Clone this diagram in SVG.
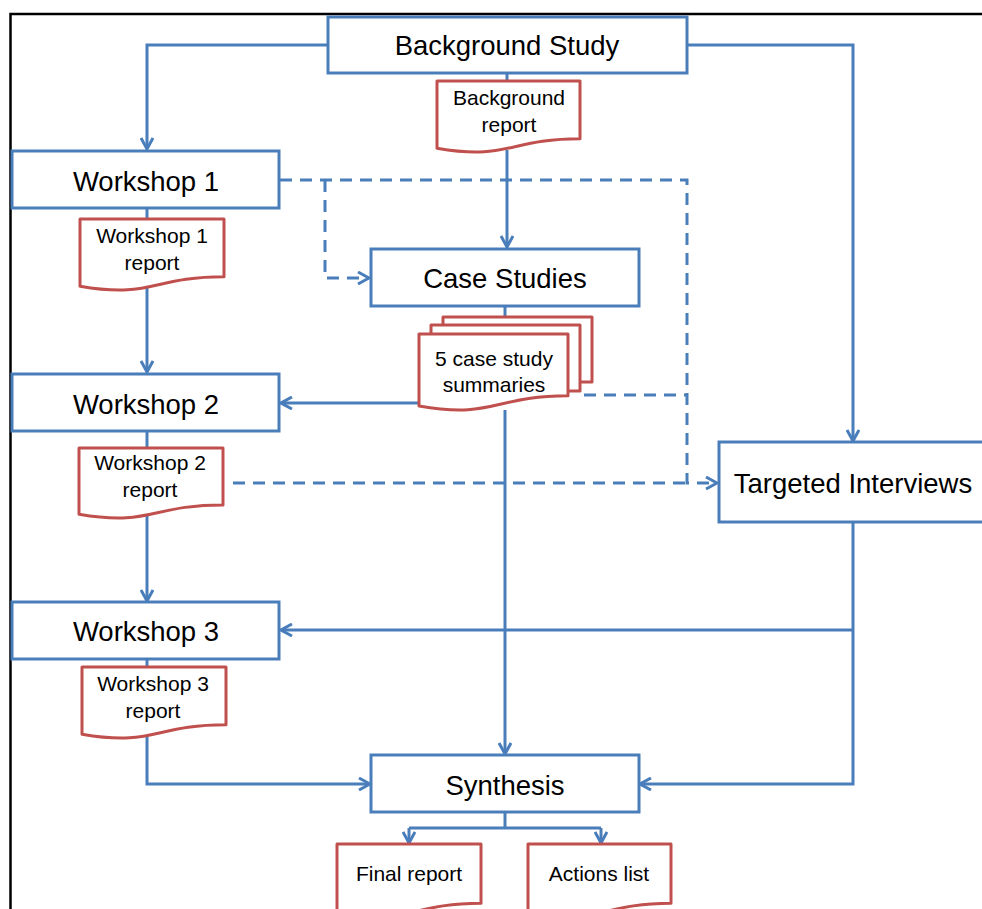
<svg xmlns="http://www.w3.org/2000/svg" width="982" height="909" viewBox="0 0 982 909">
<defs>
<style>
.box{fill:#fff;stroke:#4A7EBB;stroke-width:3}
.doc{fill:#fff;stroke:#C0504D;stroke-width:3;stroke-linejoin:round}
.ln{fill:none;stroke:#4A7EBB;stroke-width:3;stroke-linejoin:miter}
.dash{fill:none;stroke:#4A7EBB;stroke-width:3;stroke-dasharray:12 8}
.t{font-family:"Liberation Sans",Arial,sans-serif;font-size:27.5px;fill:#000;text-anchor:middle}
.d{font-family:"Liberation Sans",Arial,sans-serif;font-size:21px;fill:#000;text-anchor:middle}
</style>
<marker id="arr" viewBox="0 0 14 14" refX="12.5" refY="7" markerWidth="14" markerHeight="14" markerUnits="userSpaceOnUse" orient="auto">
<path d="M1.5,1 L12.5,7 L1.5,13" fill="none" stroke="#4A7EBB" stroke-width="3"/>
</marker>
</defs>
<rect x="0" y="0" width="982" height="909" fill="#fff"/>
<path d="M10.5,909 V14 H982" fill="none" stroke="#000" stroke-width="2.5"/>

<g id="connectors">
<path class="ln" d="M328,45 H147 V149" marker-end="url(#arr)"/>
<path class="ln" d="M687,45 H853 V441" marker-end="url(#arr)"/>
<path class="ln" d="M507,73 V81"/>
<path class="ln" d="M507,150 V247" marker-end="url(#arr)"/>
<path class="ln" d="M147,208 V219"/>
<path class="ln" d="M147,287 V372" marker-end="url(#arr)"/>
<path class="dash" d="M280,180 H687 V483 H717" marker-end="url(#arr)"/>
<path class="dash" d="M325,180 V278 H369" marker-end="url(#arr)"/>
<path class="ln" d="M505,306 V317"/>
<path class="ln" d="M505,410 V754" marker-end="url(#arr)"/>
<path class="ln" d="M420,403 H281" marker-end="url(#arr)"/>
<path class="dash" d="M584,395 H687"/>
<path class="ln" d="M147,431 V448"/>
<path class="ln" d="M147,516 V601" marker-end="url(#arr)"/>
<path class="dash" d="M233,483 H687"/>
<path class="ln" d="M853,522 V784 H640" marker-end="url(#arr)"/>
<path class="ln" d="M853,630 H281" marker-end="url(#arr)"/>
<path class="ln" d="M147,658 V667"/>
<path class="ln" d="M147,735 V784 H370" marker-end="url(#arr)"/>
<path class="ln" d="M505,812 V828"/>
<path class="ln" d="M409,828 H601"/>
<path class="ln" d="M409,828 V843" marker-end="url(#arr)"/>
<path class="ln" d="M601,828 V843" marker-end="url(#arr)"/>
</g>

<g id="background-study">
<rect class="box" x="328" y="17" width="359" height="56"/>
<text class="t" x="507" y="55">Background Study</text>
</g>
<g id="background-report">
<path class="doc" d="M437,81 H580 V138.7 C508.5,138.7 508.5,160.7 437,148.2 Z"/>
<text class="d" x="509" y="105">Background</text>
<text class="d" x="509" y="132">report</text>
</g>
<g id="workshop-1">
<rect class="box" x="12" y="151" width="267" height="57"/>
<text class="t" x="146" y="191">Workshop 1</text>
</g>
<g id="workshop-1-report">
<path class="doc" d="M80,219 H224 V276.7 C152,276.7 152,298.7 80,286.2 Z"/>
<text class="d" x="152" y="243">Workshop 1</text>
<text class="d" x="152" y="270">report</text>
</g>
<g id="case-studies">
<rect class="box" x="371" y="249" width="268" height="57"/>
<text class="t" x="505" y="288">Case Studies</text>
</g>
<g id="case-study-summaries">
<rect class="doc" x="443" y="317" width="149" height="65"/>
<rect class="doc" x="431" y="325" width="149" height="66"/>
<path class="doc" d="M419,334 H568 V395.8 C493.5,395.8 493.5,419.2 419,405.9 Z"/>
<text class="d" x="494" y="366">5 case study</text>
<text class="d" x="494" y="392">summaries</text>
</g>
<g id="workshop-2">
<rect class="box" x="12" y="374" width="267" height="57"/>
<text class="t" x="146" y="414">Workshop 2</text>
</g>
<g id="workshop-2-report">
<path class="doc" d="M79,448 H223 V504.9 C151,504.9 151,526.6 79,514.3 Z"/>
<text class="d" x="150" y="470">Workshop 2</text>
<text class="d" x="150" y="497">report</text>
</g>
<g id="targeted-interviews">
<rect class="box" x="719" y="442" width="270" height="80"/>
<text class="t" x="853" y="493">Targeted Interviews</text>
</g>
<g id="workshop-3">
<rect class="box" x="12" y="602" width="267" height="57"/>
<text class="t" x="146" y="641">Workshop 3</text>
</g>
<g id="workshop-3-report">
<path class="doc" d="M82,667 H226 V724.7 C154,724.7 154,746.7 82,734.2 Z"/>
<text class="d" x="153" y="691">Workshop 3</text>
<text class="d" x="153" y="718">report</text>
</g>
<g id="synthesis">
<rect class="box" x="371" y="755" width="268" height="57"/>
<text class="t" x="505" y="795">Synthesis</text>
</g>
<g id="final-report">
<path class="doc" d="M337,844 H481 V903.3 C409,903.3 409,925.9 337,913.1 Z"/>
<text class="d" x="409" y="881">Final report</text>
</g>
<g id="actions-list">
<path class="doc" d="M528,844 H671 V903.3 C599.5,903.3 599.5,925.9 528,913.1 Z"/>
<text class="d" x="599" y="881">Actions list</text>
</g>
</svg>
